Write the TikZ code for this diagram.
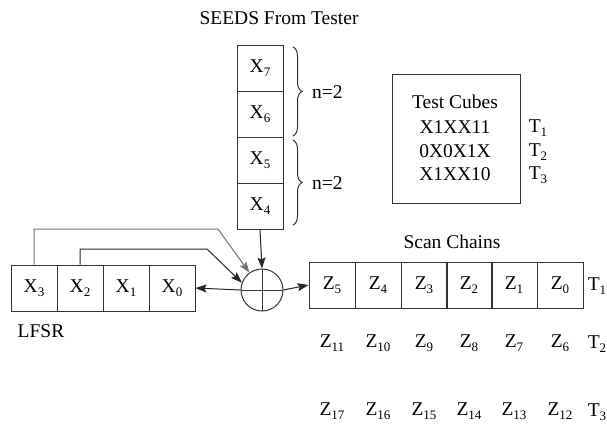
\documentclass[tikz,border=0pt]{standalone}
\usepackage{fontspec}
\setmainfont{Liberation Serif}
\usetikzlibrary{arrows.meta,decorations.pathreplacing}
\newcommand\dfont{\fontsize{19.5}{23}\selectfont}
\newcommand\sbs[1]{\raisebox{-4pt}{\fontsize{13}{13}\selectfont #1}}
\tikzset{
  cell/.style={draw=black!80, line width=1pt, minimum width=46pt, minimum height=46pt, inner sep=0pt, font=\dfont},
  lbl/.style={inner sep=0pt, font=\dfont},
  arr/.style={draw=black!85, line width=1pt, -{Stealth[length=11pt,width=8pt,inset=2pt]}},
  xorgate/.style={draw=black!80, line width=1pt, circle, minimum size=42pt, inner sep=0pt,
    path picture={\draw[black!80, line width=1pt]
      (path picture bounding box.north) -- (path picture bounding box.south)
      (path picture bounding box.west) -- (path picture bounding box.east);}},
  brc/.style={draw=black!80, line width=1pt, decorate, decoration={brace, amplitude=9pt}}
}
\begin{document}
\begin{tikzpicture}[x=1pt, y=-1pt]
\useasboundingbox (0,0) rectangle (607,423);

% seeds column
\node[lbl] (seedt) at (279,18) {SEEDS From Tester};
\node[cell] (x7) at (260,68) {X\sbs{7}};
\node[cell] (x6) at (260,114) {X\sbs{6}};
\node[cell] (x5) at (260,160) {X\sbs{5}};
\node[cell] (x4) at (260,206) {X\sbs{4}};
\draw[brc] (293,47) -- (293,136);
\draw[brc] (293,140) -- (293,225);
\node[lbl, anchor=west] (n1) at (312,92) {n=2};
\node[lbl, anchor=west] (n2) at (312,183) {n=2};

% test cubes
\node[draw=black!80, line width=1pt, minimum width=128pt, minimum height=129pt] (tc) at (456,138.5) {};
\node[lbl] (tct) at (455,102) {Test Cubes};
\node[lbl] (tc1) at (455,127) {X1XX11};
\node[lbl] (tc2) at (455,151) {0X0X1X};
\node[lbl] (tc3) at (455,174) {X1XX10};
\node[lbl] (tt1) at (538,128) {T\sbs{1}};
\node[lbl] (tt2) at (538,152) {T\sbs{2}};
\node[lbl] (tt3) at (538,175) {T\sbs{3}};

% LFSR
\node[cell] (l3) at (34,288) {X\sbs{3}};
\node[cell] (l2) at (80,288) {X\sbs{2}};
\node[cell] (l1) at (126,288) {X\sbs{1}};
\node[cell] (l0) at (172,288) {X\sbs{0}};
\node[lbl] (lfsr) at (41,331) {LFSR};

% xor
\node[xorgate] (c) at (262,290) {};

% scan chains
\node[lbl] (sct) at (452,242) {Scan Chains};
\node[cell] (z5) at (332,285) {Z\sbs{5}};
\node[cell] (z4) at (378,285) {Z\sbs{4}};
\node[cell] (z3) at (424,285) {Z\sbs{3}};
\node[cell] (z2) at (469,285) {Z\sbs{2}};
\node[cell] (z1) at (514,285) {Z\sbs{1}};
\node[cell] (z0) at (560,285) {Z\sbs{0}};
\node[lbl] (s1) at (597,286) {T\sbs{1}};

\node[lbl] (z11) at (332,343) {Z\sbs{11}};
\node[lbl] (z10) at (378,343) {Z\sbs{10}};
\node[lbl] (z9) at (424,343) {Z\sbs{9}};
\node[lbl] (z8) at (469,343) {Z\sbs{8}};
\node[lbl] (z7) at (514,343) {Z\sbs{7}};
\node[lbl] (z6) at (560,343) {Z\sbs{6}};
\node[lbl] (s2) at (597,344) {T\sbs{2}};

\node[lbl] (z17) at (332,411) {Z\sbs{17}};
\node[lbl] (z16) at (378,411) {Z\sbs{16}};
\node[lbl] (z15) at (424,411) {Z\sbs{15}};
\node[lbl] (z14) at (469,411) {Z\sbs{14}};
\node[lbl] (z13) at (514,411) {Z\sbs{13}};
\node[lbl] (z12) at (560,411) {Z\sbs{12}};
\node[lbl] (s3) at (597,412) {T\sbs{3}};

% connectors
\coordinate (k3) at (218,229);
\coordinate (k2) at (207,249);
\draw[arr, draw=black!55] (l3.north) |- (k3) -- (c.126);
\draw[arr] (l2.north) |- (k2) -- (c.160);
\draw[arr] (x4.south) -- (c.north);
\draw[arr] (c.west) -- (l0.east);
\draw[arr] (c.east) -- (z5.west);
\end{tikzpicture}
\end{document}
